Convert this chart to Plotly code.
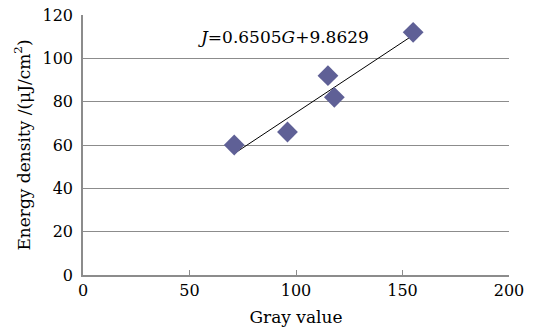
import plotly.graph_objects as go

gray_value = [71, 96, 115, 118, 155]
energy_density = [60, 66, 92, 82, 112]
slope = 0.6505
intercept = 9.8629
x_ticks = [0, 50, 100, 150, 200]
y_ticks = [0, 20, 40, 60, 80, 100, 120]

FONT = "DejaVu Serif"

x0, x1 = min(gray_value), max(gray_value)
fit_x = [x0, x1]
fit_y = [slope * v + intercept for v in fit_x]

fig = go.Figure()
fig.add_trace(go.Scatter(x=fit_x, y=fit_y, mode="lines",
                         line=dict(color="black", width=1), showlegend=False))
fig.add_trace(go.Scatter(x=gray_value, y=energy_density, mode="markers",
                         marker=dict(symbol="diamond", size=16, color="#5f6096",
                                     line=dict(width=0)),
                         showlegend=False))

fig.add_annotation(x=53, y=110, xref="x", yref="y", xanchor="left", yanchor="middle",
                   text="<i>J</i>=0.6505<i>G</i>+9.8629", showarrow=False,
                   font=dict(family=FONT, size=17, color="black"))

fig.update_layout(
    width=536, height=329,
    margin=dict(l=83, r=27, t=15, b=54, autoexpand=False),
    paper_bgcolor="white", plot_bgcolor="white",
    font=dict(family=FONT, size=16, color="black"),
    xaxis=dict(range=[0, 200], tickvals=x_ticks, showgrid=False,
               showline=True, linecolor="#8c8c8c", linewidth=1.5,
               ticks="inside", ticklen=5, tickcolor="#8c8c8c",
               zeroline=False, automargin=False,
               title=dict(text="Gray value", standoff=12,
                          font=dict(family=FONT, size=17))),
    yaxis=dict(range=[0, 120], tickvals=y_ticks, showgrid=True,
               gridcolor="#8c8c8c", gridwidth=1,
               showline=True, linecolor="#8c8c8c", linewidth=1.5,
               zeroline=False, ticks="", ticklabelstandoff=5, automargin=False,
               title=dict(text="Energy density /(μJ/cm<sup>2</sup>)", standoff=8,
                          font=dict(family=FONT, size=17))),
)

fig.write_html("out.html", config={"displayModeBar": False},
               post_script="document.body.style.margin='0';document.body.style.padding='0';")
